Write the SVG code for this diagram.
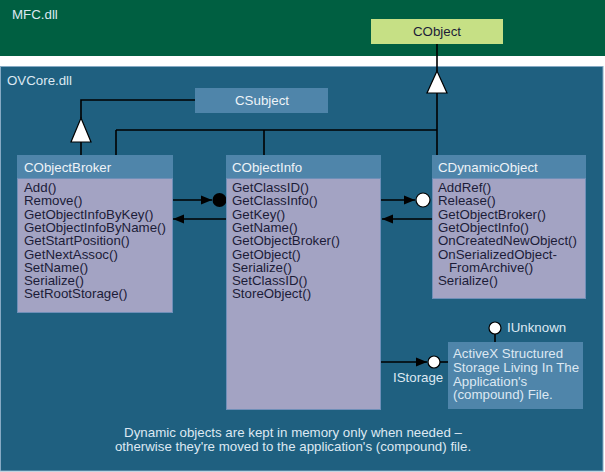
<svg xmlns="http://www.w3.org/2000/svg" width="605" height="472" viewBox="0 0 605 472">
<style>
text{font-family:"Liberation Sans",Arial,sans-serif;font-size:13.3px}
.hdr{fill:#4f85aa}
.body{fill:#a3a3c3;stroke:#6f8fb8;stroke-width:1}
.ht{fill:#eef3f8}
.bt{fill:#1c1c38}
.lt{fill:#dde8f2}
.ln{stroke:#000;stroke-width:1.6;fill:none}
.tri{fill:#fff;stroke:#000;stroke-width:1.2}
</style>
<defs>
<marker id="ah" markerUnits="userSpaceOnUse" markerWidth="12" markerHeight="10" refX="11" refY="5" orient="auto">
<path d="M0,0.5 L11,5 L0,9.5 z" fill="#000"/>
</marker>
</defs>
<rect x="0" y="0" width="605" height="472" fill="#fff"/>
<g id="mfc">
<rect x="0" y="0" width="605" height="56" fill="#005f41"/>
<text x="12" y="19" class="lt">MFC.dll</text>
</g>
<g id="ovcore">
<rect x="0.5" y="66.5" width="602.5" height="404.5" fill="#1f6080" stroke="#86aac4" stroke-width="1"/>
<text x="7" y="85" class="lt">OVCore.dll</text>
</g>
<g id="CObject">
<rect x="371" y="19" width="132" height="25" fill="#c6e085"/>
<text x="437" y="36" text-anchor="middle" class="bt">CObject</text>
</g>
<g id="CSubject">
<rect x="195" y="88" width="133" height="25" class="hdr"/>
<text x="262" y="105" text-anchor="middle" class="ht">CSubject</text>
</g>
<g id="connectors">
<path class="ln" d="M437,44 V72 M437,93 V155 M116,130 H437 M116,130 V155 M264,130 V155 M195,100 H81 V119 M81,142 V155"/>
<polygon class="tri" points="437,71 447,93 427,93"/>
<polygon class="tri" points="81,118 91,142 71,142"/>
<path class="ln" d="M172,200 H212" marker-end="url(#ah)"/>
<circle cx="219.5" cy="200" r="7" fill="#000"/>
<path class="ln" d="M226,219 H173" marker-end="url(#ah)"/>
<path class="ln" d="M381,200 H415" marker-end="url(#ah)"/>
<circle cx="423" cy="200" r="7" fill="#fff" stroke="#000" stroke-width="1.2"/>
<path class="ln" d="M432,219 H382" marker-end="url(#ah)"/>
<path class="ln" d="M381,362 H427" marker-end="url(#ah)"/>
<circle cx="434" cy="362" r="6" fill="#fff" stroke="#000" stroke-width="1.2"/>
<path class="ln" d="M440,362 H448"/>
<circle cx="495" cy="328" r="6" fill="#fff" stroke="#000" stroke-width="1.2"/>
<path class="ln" d="M495,334 V342"/>
</g>
<g id="CObjectBroker">
<rect x="17.5" y="178.5" width="155" height="134" class="body"/>
<rect x="17" y="155" width="156" height="23" class="hdr"/>
<text x="24" y="172" class="ht">CObjectBroker</text>
<text class="bt" x="24" y="192">Add()<tspan x="24" dy="13.3">Remove()</tspan><tspan x="24" dy="13.3">GetObjectInfoByKey()</tspan><tspan x="24" dy="13.3">GetObjectInfoByName()</tspan><tspan x="24" dy="13.3">GetStartPosition()</tspan><tspan x="24" dy="13.3">GetNextAssoc()</tspan><tspan x="24" dy="13.3">SetName()</tspan><tspan x="24" dy="13.3">Serialize()</tspan><tspan x="24" dy="13.3">SetRootStorage()</tspan></text>
</g>
<g id="CObjectInfo">
<rect x="226.5" y="178.5" width="154" height="231" class="body"/>
<rect x="226" y="155" width="155" height="23" class="hdr"/>
<text x="232" y="172" class="ht">CObjectInfo</text>
<text class="bt" x="232" y="192">GetClassID()<tspan x="232" dy="13.3">GetClassInfo()</tspan><tspan x="232" dy="13.3">GetKey()</tspan><tspan x="232" dy="13.3">GetName()</tspan><tspan x="232" dy="13.3">GetObjectBroker()</tspan><tspan x="232" dy="13.3">GetObject()</tspan><tspan x="232" dy="13.3">Serialize()</tspan><tspan x="232" dy="13.3">SetClassID()</tspan><tspan x="232" dy="13.3">StoreObject()</tspan></text>
</g>
<g id="CDynamicObject">
<rect x="432.5" y="178.5" width="153" height="120" class="body"/>
<rect x="432" y="155" width="154" height="23" class="hdr"/>
<text x="438" y="172" class="ht">CDynamicObject</text>
<text class="bt" x="438" y="192">AddRef()<tspan x="438" dy="13.3">Release()</tspan><tspan x="438" dy="13.3">GetObjectBroker()</tspan><tspan x="438" dy="13.3">GetObjectInfo()</tspan><tspan x="438" dy="13.3">OnCreatedNewObject()</tspan><tspan x="438" dy="13.3">OnSerializedObject-</tspan><tspan x="449" dy="13.3">FromArchive()</tspan><tspan x="438" dy="13.3">Serialize()</tspan></text>
</g>
<g id="ActiveXStorage">
<rect x="448" y="342" width="135" height="67" class="hdr"/>
<text class="lt" x="453" y="358">ActiveX Structured<tspan x="453" dy="13.8">Storage Living In The</tspan><tspan x="453" dy="13.8">Application's</tspan><tspan x="453" dy="13.8">(compound) File.</tspan></text>
</g>
<g id="labels">
<text x="393" y="382" class="lt">IStorage</text>
<text x="507" y="332" class="lt">IUnknown</text>
<text x="293" y="437" text-anchor="middle" class="lt">Dynamic objects are kept in memory only when needed –</text>
<text x="293" y="451" text-anchor="middle" class="lt">otherwise they're moved to the application's (compound) file.</text>
</g>
</svg>
